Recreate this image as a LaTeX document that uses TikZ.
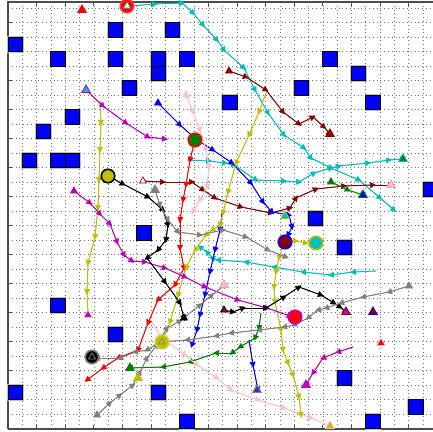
\documentclass[tikz,border=0pt]{standalone}
\usetikzlibrary{arrows.meta,decorations.pathreplacing,shapes.geometric}
\definecolor{cy}{rgb}{0,0.75,0.75}
\definecolor{mr}{rgb}{0.55,0,0}
\definecolor{mg}{rgb}{0.75,0,0.75}
\definecolor{ol}{rgb}{0.75,0.75,0}
\definecolor{pk}{rgb}{1,0.75,0.8}
\definecolor{gr}{rgb}{0,0.5,0}
\definecolor{gy}{rgb}{0.5,0.5,0.5}
\tikzset{
  gridline/.style={black!55, line width=0.6pt, dash pattern=on 0.8pt off 3pt},
  axisc/.style={black!70, line width=1.2pt},
  obst/.style={fill=blue, draw=black, line width=0.9pt},
  obsthalo/.style={draw=gray!50, line width=2.4pt},
  traj/.style={decorate, decoration={show path construction,
     lineto code={\draw[#1, line width=0.9pt] (\tikzinputsegmentfirst) -- (\tikzinputsegmentlast);
                  \draw[#1, line width=0.6pt, shorten >=-3pt, -{Triangle[length=6pt,width=6pt]}] (\tikzinputsegmentfirst) -- (\tikzinputsegmentlast);}}},
  tri/.style args={#1/#2}{regular polygon, regular polygon sides=3, inner sep=0pt, minimum size=10pt, fill=#1, draw=#2, line width=0.8pt},
  stri/.style args={#1/#2}{regular polygon, regular polygon sides=3, inner sep=0pt, minimum size=8pt, fill=#1, draw=#2, line width=0.7pt},
  agent/.style args={#1/#2}{circle, inner sep=0pt, minimum size=13.5pt, fill=#1, draw=#2, line width=1.6pt},
}
\begin{document}
\begin{tikzpicture}[x=1pt,y=-1pt]
\useasboundingbox (0,0) rectangle (433,431);
\fill[white] (0,0) rectangle (433,431);
% grid
\foreach \i in {1,...,29} \draw[gridline] ({8+14.31*\i},2) -- ({8+14.31*\i},429);
\foreach \j in {1,...,29} \draw[gridline] (8,{428.7-14.5*\j}) -- (433,{428.7-14.5*\j});
% frame and ticks
\draw[axisc] (8,429) -- (8,2) -- (433,2);
\draw[axisc] (8,429) -- (433,429);
\foreach \i in {2,4,...,28} {
  \draw[axisc, line width=0.8pt] ({8+14.31*\i},2) -- ++(0,4);
  \draw[axisc, line width=0.8pt] ({8+14.31*\i},429) -- ++(0,-4);
}
\foreach \j in {2,4,...,28} \draw[axisc, line width=0.8pt] (8,{428.7-14.5*\j}) -- ++(4,0);
% obstacles
\foreach \i/\j in {0/26,7/27,11/27,3/25,7/25,10/25,10/24,12/25,8/23,4/21,2/20,1/18,3/18,4/18,22/25,24/24,20/23,15/22,25/22,29/16,21/14,9/13,3/8,7/6,0/2,10/2,12/0,23/12,23/3,28/1,25/0} {
  \draw[obsthalo] ({8+14.31*\i},{428.7-14.5*\j}) rectangle ({8+14.31*(\i+1)},{428.7-14.5*(\j+1)});
}
\foreach \i/\j in {0/26,7/27,11/27,3/25,7/25,10/25,10/24,12/25,8/23,4/21,2/20,1/18,3/18,4/18,22/25,24/24,20/23,15/22,25/22,29/16,21/14,9/13,3/8,7/6,0/2,10/2,12/0,23/12,23/3,28/1,25/0} {
  \draw[obst] ({8+14.31*\i},{428.7-14.5*\j}) rectangle ({8+14.31*(\i+1)},{428.7-14.5*(\j+1)});
}
% trajectories
\path[traj=cy] (130,6) -- (155,4) -- (182,3) -- (193,13) -- (203,25) -- (217,40) -- (224,50) -- (244,68) -- (255,90) -- (268,113) -- (284,135) -- (304,148) -- (311,158) -- (331,168) -- (359,180) -- (380,198) -- (394,210);
\path[traj=cy] (187,160) -- (209,161) -- (225,163) -- (234,165) -- (256,180) -- (284,181) -- (299,182) -- (314,173) -- (331,168) -- (339,166) -- (368,163) -- (389,160) -- (403,159);
\path[traj=cy] (376,271) -- (353,272) -- (331,275) -- (303,272) -- (274,267) -- (246,262) -- (218,260) -- (212,258) -- (207,252) -- (200,247);
\path[traj=mr] (229,71) -- (246,77) -- (266,90) -- (283,112) -- (299,124) -- (313,117) -- (324,127) -- (330,134);
\path[traj=mr] (143,181) -- (163,182) -- (192,182) -- (203,190) -- (215,198) -- (241,207) -- (271,213) -- (290,208) -- (296,198) -- (316,189) -- (344,186) -- (373,185) -- (391,185);
\path[traj=blue] (158,103) -- (180,125) -- (197,140) -- (213,150) -- (232,163) -- (251,183) -- (263,202) -- (272,212) -- (289,215) -- (292,227) -- (288,235);
\path[traj=blue] (222,213) -- (220,230) -- (215,250) -- (210,272) -- (205,295) -- (200,315) -- (197,330) -- (192,345);
\path[traj=blue] (249,340) -- (253,365) -- (258,390);
\path[traj=gr] (331,182) -- (348,190) -- (363,195);
\path[traj=gr] (261,313) -- (259,328) -- (255,338) -- (240,347) -- (232,353) -- (216,353) -- (190,362) -- (163,367) -- (130,368);
\path[traj=red] (195,140) -- (190,160) -- (186,185) -- (183,200) -- (180,220) -- (180,248) -- (184,268) -- (175,285) -- (158,300) -- (148,323) -- (138,350) -- (118,358) -- (103,368) -- (87,380);
\path[traj=pk] (186,95) -- (193,112) -- (200,130) -- (206,150) -- (209,167) -- (207,187) -- (200,200) -- (193,212);
\path[traj=pk] (152,322) -- (162,338) -- (185,355) -- (197,365) -- (217,378) -- (231,390) -- (258,400) -- (284,408) -- (311,418) -- (330,426);
\path[traj=ol] (100,100) -- (101,123) -- (100,150) -- (99,180) -- (98,208) -- (95,237) -- (88,263) -- (87,292) -- (88,315);
\path[traj=ol] (266,93) -- (259,112) -- (249,135) -- (236,163) -- (228,192) -- (223,213) -- (220,225) -- (212,230) -- (206,235) -- (195,250) -- (186,268) -- (178,295) -- (170,322) -- (162,342);
\path[traj=ol] (286,240) -- (296,241) -- (306,243) -- (313,243);
\path[traj=ol] (283,246) -- (279,258) -- (276,272) -- (274,287) -- (275,302) -- (281,330) -- (283,350) -- (288,363) -- (293,375) -- (299,397) -- (301,415);
\path[traj=mg] (86,90) -- (103,106) -- (126,123) -- (148,137) -- (165,139);
\path[traj=mg] (74,191) -- (90,203) -- (100,214) -- (110,224) -- (117,242) -- (124,255) -- (132,261) -- (145,262) -- (165,268) -- (185,277) -- (205,287) -- (238,300) -- (267,308) -- (290,316);
\path[traj=mg] (353,347) -- (338,352) -- (323,358) -- (313,373) -- (306,385);
\path[traj=black] (108,176) -- (123,184) -- (148,197) -- (163,210) -- (168,225) -- (166,240) -- (158,250) -- (147,258) -- (165,282) -- (180,303) -- (184,318);
\path[traj=black] (224,310) -- (233,312) -- (243,308) -- (266,308) -- (284,297) -- (299,287) -- (321,295) -- (334,303) -- (340,307) -- (346,312);
\path[traj=gy] (409,286) -- (389,292) -- (363,297) -- (341,303) -- (326,308) -- (318,310) -- (308,318) -- (294,325) -- (284,327) -- (259,330) -- (231,333) -- (216,336) -- (187,340) -- (160,342) -- (147,350) -- (135,352) -- (120,358) -- (97,358);
\path[traj=gy] (97,415) -- (110,403) -- (120,395) -- (133,385) -- (140,372) -- (147,358) -- (157,345) -- (167,328) -- (180,321) -- (200,305) -- (212,295) -- (225,285);
\path[traj=gy] (155,190) -- (160,205) -- (168,220) -- (178,232) -- (200,235) -- (223,230) -- (246,237) -- (268,250) -- (286,257);
% start / goal markers
\node (m1) [tri=red/red] at (82,10) {};
\node (m2) [tri=cy/mg] at (86,90) {};
\node (m3) [stri=mr/mr] at (229,71) {};
\node (m4) [stri=blue/blue] at (158,103) {};
\node (m5) [stri=pk/pk] at (186,95) {};
\node (m6) [stri=white/mr] at (143,181) {};
\node (m7) [tri=gy/gy] at (155,190) {};
\node (m8) [stri=mg/mg] at (74,191) {};
\node (m9) [stri=gr/gr] at (331,182) {};
\node (m10) [tri=blue/gr] at (363,195) {};
\node (m11) [tri=mr/mr] at (330,134) {};
\node (m12) [tri=pk/pk!80!red] at (391,185) {};
\node (m13) [tri=gr/cy] at (403,159) {};
\node (m14) [tri=cy/ol] at (285,216) {};
\node (m15) [tri=pk/pk!80!red] at (224,285) {};
\node (m16) [stri=mr!60!mg/black] at (224,310) {};
\node (m17) [tri=mg/mr] at (346,312) {};
\node (m18) [tri=mr/blue] at (373,312) {};
\node (m19) [tri=red/pk] at (381,343) {};
\node (m20) [tri=mg/pk] at (88,315) {};
\node (m21) [tri=gr/gr] at (130,368) {};
\node (m22) [tri=ol/ol] at (138,378) {};
\node (m23) [tri=blue!60!gy/gy] at (257,390) {};
\node (m24) [tri=mg/mg] at (306,385) {};
\node (m25) [tri=ol/pk] at (330,426) {};
\node (m26) [stri=gy/gy] at (409,286) {};
\node (m27) [stri=black/black] at (184,318) {};
\node (m28) [stri=gy/gy] at (97,415) {};
% agents
\node (a1) [agent=red/red!70!pink] at (127,6) {};
\node (a1t) [stri=white/cy] at (127,6) {};
\node (a2) [agent=gr/red] at (195,140) {};
\node (a3) [agent=ol/black] at (108,176) {};
\node (a4) [agent=mr/blue] at (285,242) {};
\node (a5) [agent=cy/ol] at (316,243) {};
\node (a6) [agent=red/mg] at (295,317) {};
\node (a7) [agent=ol/ol!80!white] at (162,342) {};
\node (a7t) [stri=ol/gy] at (162,342) {};
\node (a8) [agent=black/gy] at (92,357) {};
\node (a8t) [stri=black/gy] at (92,357) {};
\end{tikzpicture}
\end{document}
